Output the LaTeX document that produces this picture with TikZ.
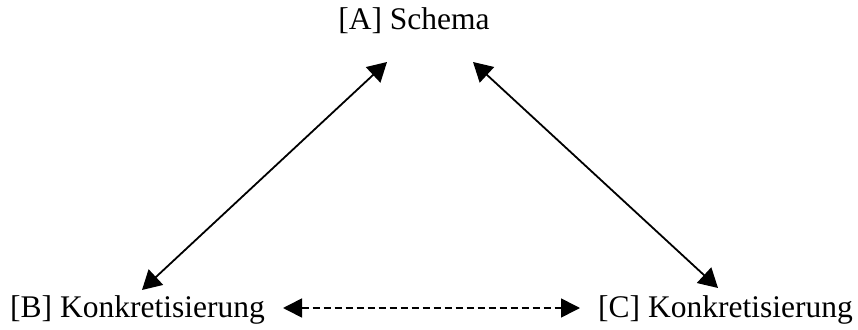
\documentclass[tikz,border=0pt]{standalone}
\usepackage{fontspec}
\setmainfont{Liberation Serif}
\usetikzlibrary{arrows.meta}
\begin{document}
\begin{tikzpicture}[x=1pt,y=1pt,
  lbl/.style={inner sep=0pt, font=\fontsize{31.5}{36}\selectfont},
  conn/.style={line width=1.8pt, {Triangle[length=19pt,width=21pt]}-{Triangle[length=19pt,width=21pt]}},
  dconn/.style={line width=1.6pt, dash pattern=on 7pt off 4pt, {Triangle[length=19pt,width=19pt]}-{Triangle[length=19pt,width=19pt]}}]
\useasboundingbox (0,0) rectangle (858,329);
\node[lbl, anchor=base] (A) at (414,299) {[A] Schema};
\node[lbl, anchor=base west] (B) at (10,12) {[B] Konkretisierung};
\node[lbl, anchor=base east] (C) at (853,12) {[C] Konkretisierung};
\coordinate (a1) at (387,267);
\coordinate (b1) at (142,39);
\coordinate (a2) at (473,267);
\coordinate (c1) at (718,41);
\coordinate (b2) at (283,21);
\coordinate (c2) at (580,21);
\draw[conn] (a1) -- (b1);
\draw[conn] (a2) -- (c1);
\draw[dconn] (b2) -- (c2);
\end{tikzpicture}
\end{document}
